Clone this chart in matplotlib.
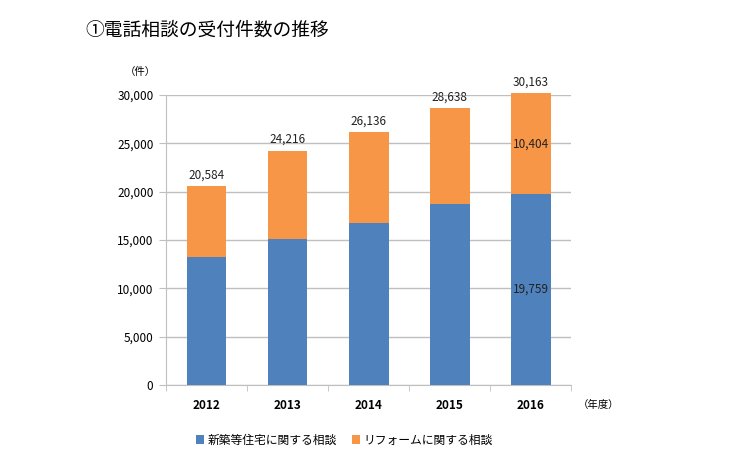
import matplotlib.pyplot as plt
import numpy as np

plt.rcParams['font.family'] = ['Noto Sans CJK JP', 'DejaVu Sans']

# --- データ ---
years = ['2012', '2013', '2014', '2015', '2016']
totals = [20584, 24216, 26136, 28638, 30163]
shinchiku = [13200, 15150, 16800, 18750, 19759]   # 新築等住宅に関する相談
reform = [t - s for t, s in zip(totals, shinchiku)]  # リフォームに関する相談
y_ticks = [0, 5000, 10000, 15000, 20000, 25000, 30000]

BLUE = '#4F81BD'
ORANGE = '#F79646'
GRID = '#BFBFBF'

fig = plt.figure(figsize=(7.29, 4.68), dpi=100)
ax = fig.add_axes([0.2277, 0.1774, 0.556, 0.6196])

x = np.arange(len(years))
w = 0.49
ax.bar(x, shinchiku, w, color=BLUE, label='新築等住宅に関する相談', zorder=3, clip_on=False)
ax.bar(x, reform, w, bottom=shinchiku, color=ORANGE, label='リフォームに関する相談',
       zorder=3, clip_on=False)

# 合計ラベル
for xi, t in zip(x, totals):
    ax.text(xi, t + 500, f'{t:,}', ha='center', va='bottom', fontsize=8.5, color='#222222')
# 2016年の内訳
ax.text(x[-1], shinchiku[-1] / 2, f'{shinchiku[-1]:,}', ha='center', va='center',
        fontsize=8.5, color='#222222', zorder=4)
ax.text(x[-1], shinchiku[-1] + reform[-1] / 2, f'{reform[-1]:,}', ha='center', va='center',
        fontsize=8.5, color='#222222', zorder=4)

ax.set_xlim(-0.5, len(years) - 0.5)
ax.set_ylim(0, 30000)
ax.set_yticks(y_ticks)
ax.set_yticklabels([f'{v:,}' for v in y_ticks], fontsize=8.5)
ax.yaxis.grid(True, color=GRID, linewidth=1, zorder=0)
ax.tick_params(axis='y', length=5, color=GRID, pad=4)

ax.set_xticks(x)
ax.set_xticklabels(years, fontsize=8.5, fontweight='bold')
ax.set_xticks(np.arange(-0.5, len(years)), minor=True)
ax.tick_params(axis='x', which='major', length=0, pad=10)
ax.tick_params(axis='x', which='minor', length=4, color=GRID)

for s in ['top', 'right']:
    ax.spines[s].set_visible(False)
for s in ['left', 'bottom']:
    ax.spines[s].set_color(GRID)

fig.text(0.117, 0.935, '①電話相談の受付件数の推移', fontsize=13.5, va='center', ha='left')
fig.text(0.192, 0.847, '（件）', fontsize=7.5, ha='center', va='center')
fig.text(0.793, 0.135, '（年度）', fontsize=7.5, ha='left', va='center')

ax.legend(loc='center', bbox_to_anchor=(0.44, -0.19), ncol=2, frameon=False,
          fontsize=8.5, handlelength=0.7, handleheight=0.7, handletextpad=0.3,
          columnspacing=1.3)

fig.savefig('out.png', dpi=100)
